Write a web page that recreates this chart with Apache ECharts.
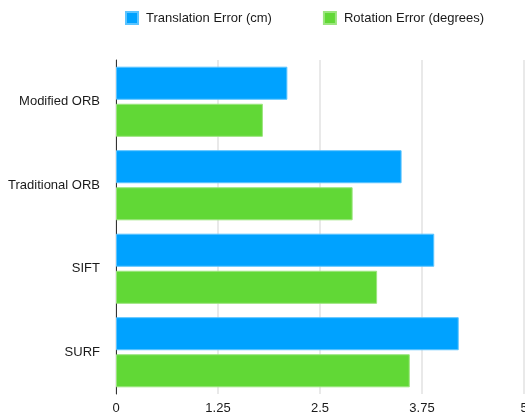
<!DOCTYPE html>
<html>
<head>
<meta charset="utf-8">
<script src="https://cdn.jsdelivr.net/npm/echarts@6/dist/echarts.min.js"></script>
<style>
    html, body { margin: 0; padding: 0; background: #fff; }
    #chart { width: 525px; height: 418px; }
</style>
</head>
<body>
<div id="chart"></div>
<script>
var methods = ["Modified ORB", "Traditional ORB", "SIFT", "SURF"];
var translationError = [2.1, 3.5, 3.9, 4.2];
var rotationError = [1.8, 2.9, 3.2, 3.6];
var xTicks = [0, 1.25, 2.5, 3.75, 5];
var seriesNames = ["Translation Error (cm)", "Rotation Error (degrees)"];

var font = "'Liberation Sans', Arial, Helvetica, sans-serif";

var myChart = echarts.init(document.getElementById("chart"));
var option = {
    animation: false,
    color: ["#00A2FF", "#61D836"],
    legend: {
        data: seriesNames,
        left: 125,
        top: 11,
        padding: 0,
        itemWidth: 12,
        itemHeight: 12,
        itemGap: 51,
        icon: "rect",
        textStyle: {
            fontFamily: font,
            fontSize: 13,
            color: "#1a1a1a",
            padding: [0, 0, 0, 3],
        },
    },
    grid: {
        left: 116,
        right: 1,
        top: 60,
        bottom: 24,
        containLabel: false,
        outerBoundsMode: "none",
    },
    xAxis: {
        type: "value",
        min: xTicks[0],
        max: xTicks[xTicks.length - 1],
        interval: 1.25,
        axisLine: { show: false },
        axisTick: { show: false },
        axisLabel: {
            fontFamily: font,
            fontSize: 13,
            color: "#1a1a1a",
            margin: 8,
            showMaxLabel: true,
        },
        splitLine: {
            show: true,
            lineStyle: { color: "#e2e2e2", width: 1.5 },
        },
    },
    yAxis: {
        type: "category",
        data: methods,
        inverse: true,
        axisLine: {
            show: true,
            lineStyle: { color: "#333", width: 1 },
        },
        axisTick: { show: false },
        axisLabel: {
            fontFamily: font,
            fontSize: 13,
            color: "#1a1a1a",
            margin: 16,
        },
        splitLine: { show: false },
    },
    series: [{
            name: seriesNames[0],
            type: "bar",
            data: translationError,
            barGap: "12%",
            barCategoryGap: "16%",
            itemStyle: { borderColor: "#5cc4ff", borderWidth: 1 },
        },
        {
            name: seriesNames[1],
            type: "bar",
            data: rotationError,
            barGap: "12%",
            barCategoryGap: "16%",
            itemStyle: { borderColor: "#9be57e", borderWidth: 1 },
        },
    ],
};
myChart.setOption(option);
</script>
</body>
</html>
